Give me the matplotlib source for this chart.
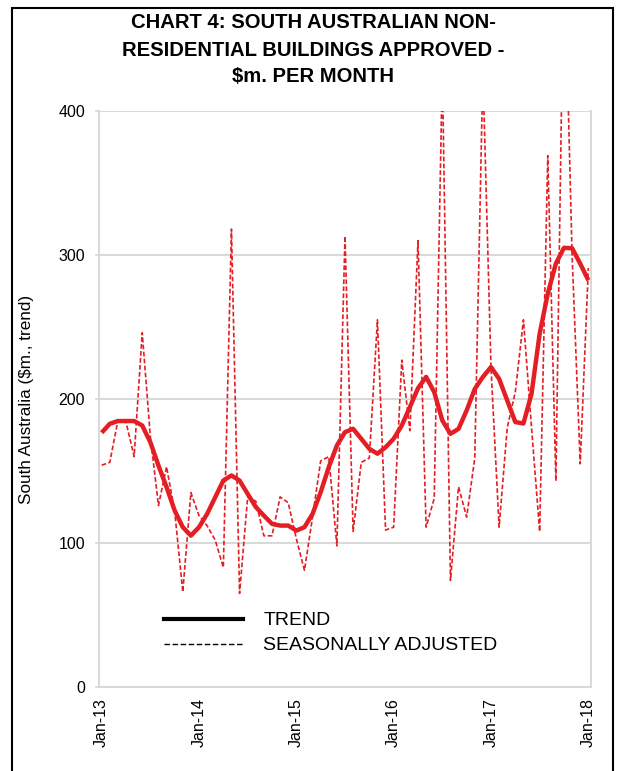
import numpy as np
import matplotlib
matplotlib.use("Agg")
import matplotlib.pyplot as plt
from matplotlib.lines import Line2D
from matplotlib.patches import Rectangle

plt.rcParams['font.family'] = ['Liberation Sans', 'DejaVu Sans']

# ---- data (monthly, Jan-13 .. Jan-18) ----
tick_labels = ["Jan-13", "Jan-14", "Jan-15", "Jan-16", "Jan-17", "Jan-18"]
tick_months = [0, 12, 24, 36, 48, 60]

seasonally_adjusted = [
    154, 156, 185, 184, 160, 246, 174, 126, 153, 122, 66, 135,
    119, 112, 102, 83, 318, 65, 132, 129, 105, 105, 132, 128,
    103, 81, 118, 157, 160, 98, 313, 108, 156, 159, 255, 109,
    111, 227, 178, 310, 111, 131, 430, 74, 139, 118, 159, 428,
    222, 111, 180, 205, 255, 180, 108, 369, 143, 520, 300, 155,
    291,
]
trend = [
    176.6, 182.8, 184.7, 184.7, 184.7, 181.6, 170.0, 153.8, 138.8, 122.5, 111.0, 105.1,
    111.0, 120.2, 131.8, 143.4, 146.9, 143.4, 134.1, 125.0, 119.0, 113.3, 112.1, 112.1,
    108.6, 111.0, 120.2, 135.3, 152.7, 167.7, 177.0, 179.3, 172.4, 165.4, 162.0, 166.5,
    172.4, 181.6, 194.4, 207.5, 215.3, 204.8, 185.1, 175.8, 179.3, 192.1, 207.0, 215.3,
    222.2, 214.0, 199.0, 184.0, 183.0, 203.7, 245.4, 273.2, 294.1, 305.0, 304.7, 294.0,
    282.5,
]
y_ticks = [0, 100, 200, 300, 400]

title_lines = ["CHART 4: SOUTH AUSTRALIAN NON-",
               "RESIDENTIAL BUILDINGS APPROVED -",
               "$m. PER MONTH"]
y_label = "South Australia ($m., trend)"
legend_labels = ["TREND", "SEASONALLY ADJUSTED"]

RED = "#E31E24"
GRID = "#d9d9d9"

W, H = 624, 771
fig = plt.figure(figsize=(W / 100, H / 100), dpi=100)
ax = fig.add_axes([99 / W, 1 - 687 / H, (591 - 99) / W, (687 - 111) / H])

x = np.arange(len(trend))
ax.plot(x, seasonally_adjusted, color=RED, lw=1.2, dashes=(2.8, 1.4), zorder=3)
ax.plot(x, trend, color=RED, lw=3.2, solid_capstyle='butt', zorder=4)

ax.set_xlim(-0.33, 60.33)
ax.set_ylim(0, 400)
ax.set_yticks(y_ticks)
ax.set_yticklabels([str(v) for v in y_ticks], fontsize=11.5)
ax.set_xticks(tick_months)
ax.set_xticklabels(tick_labels, rotation=90, fontsize=11.5, va='top')
ax.tick_params(axis='x', length=0, pad=8)
ax.tick_params(axis='y', length=3, width=1.2, color=GRID, pad=7)

ax.grid(axis='y', color=GRID, lw=1.5, zorder=0)
ax.set_axisbelow(True)
for side in ['left', 'bottom', 'right']:
    ax.spines[side].set_color(GRID)
    ax.spines[side].set_linewidth(1.5)
ax.spines['top'].set_visible(False)

ax.set_ylabel(y_label, fontsize=12.3)
ax.yaxis.set_label_coords(-0.132, 0.5)

handles = [Line2D([], [], color='black', lw=3),
           Line2D([], [], color='black', lw=1.0, dashes=(4, 1.8))]
fig.legend(handles, legend_labels, loc='center left',
           bbox_to_anchor=(164 / W, 1 - 633 / H), frameon=False,
           fontsize=14, handlelength=4.05, handletextpad=1.05,
           labelspacing=0.38, borderpad=0, borderaxespad=0)

for txt, yc in zip(title_lines, [23, 50, 77]):
    fig.text(313 / W, 1 - yc / H, txt, ha='center', va='center',
             fontsize=14.6, fontweight='bold')

fig.patches.append(Rectangle((12 / W, -0.02), (613 - 12) / W, 1 - 8 / H + 0.02,
                             transform=fig.transFigure, fill=False,
                             edgecolor='black', lw=1.5))

fig.savefig("out.png", dpi=100)
